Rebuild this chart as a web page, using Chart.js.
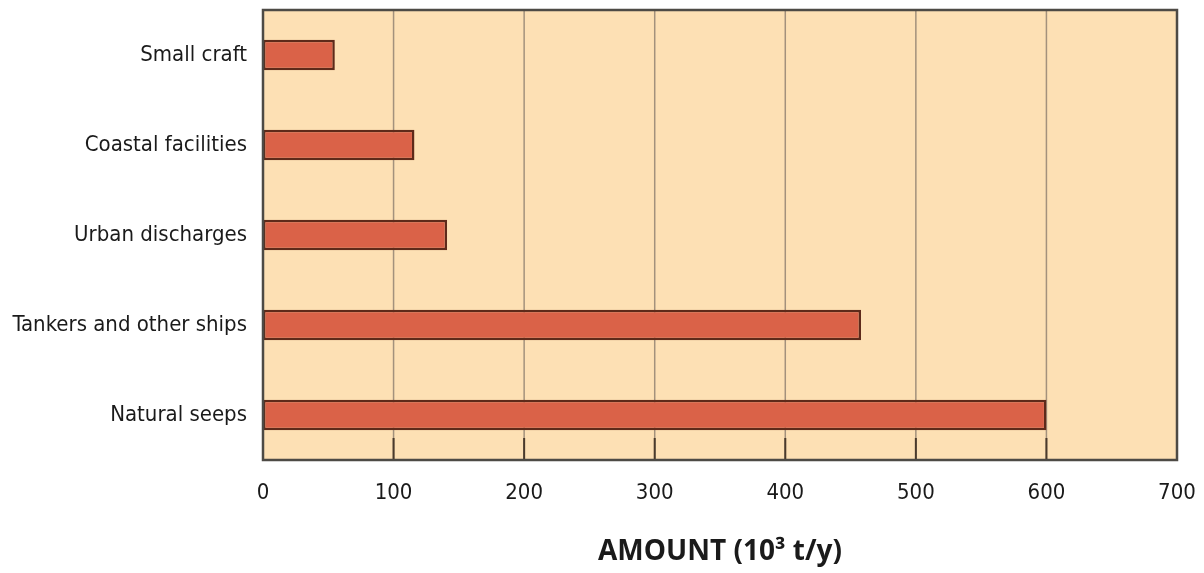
<!DOCTYPE html>
<html>
<head>
<meta charset="utf-8">
<script src="https://cdn.jsdelivr.net/npm/chart.js@4/dist/chart.umd.min.js"></script>
<style>
  html, body { margin: 0; padding: 0; background: #fff; }
  #wrap { width: 1204px; height: 573px; }
</style>
</head>
<body>
<div id="wrap"><canvas id="the-graph" width="1204" height="573"></canvas></div>
<script>
var sources = ["Small craft", "Coastal facilities", "Urban discharges", "Tankers and other ships", "Natural seeps"];
var amounts = [55, 116, 141, 458, 600];
var xTicks  = [0, 100, 200, 300, 400, 500, 600, 700];

var labelFont = "'DejaVu Sans Condensed', 'Liberation Sans Narrow', sans-serif";

// plot background, full frame and short dark ticks at the bottom
var frame = {
  id: 'frame',
  beforeDatasetsDraw: function (chart) {
    var a = chart.chartArea, ctx = chart.ctx;
    ctx.save();
    ctx.fillStyle = '#fde0b4';
    ctx.fillRect(a.left, a.top, a.right - a.left, a.bottom - a.top);
    var x = chart.scales.x;
    ctx.strokeStyle = '#a3917c';
    ctx.lineWidth = 1.5;
    xTicks.slice(1, -1).forEach(function (v) {
      var px = x.getPixelForValue(v);
      ctx.beginPath(); ctx.moveTo(px, a.top); ctx.lineTo(px, a.bottom); ctx.stroke();
    });
    ctx.strokeStyle = '#4a3a2c';
    ctx.lineWidth = 2;
    xTicks.forEach(function (v) {
      var px = x.getPixelForValue(v);
      ctx.beginPath(); ctx.moveTo(px, a.bottom - 22); ctx.lineTo(px, a.bottom); ctx.stroke();
    });
    ctx.restore();
  },
  afterDraw: function (chart) {
    var a = chart.chartArea, ctx = chart.ctx;
    ctx.save();
    ctx.strokeStyle = '#4d4a45';
    ctx.lineWidth = 2.5;
    ctx.strokeRect(a.left, a.top, a.right - a.left, a.bottom - a.top);
    ctx.restore();
  }
};

new Chart(document.getElementById('the-graph'), {
  type: 'bar',
  data: {
    labels: sources,
    datasets: [{
      data: amounts,
      backgroundColor: '#da6248',
      borderColor: '#5e2a1a',
      borderWidth: 2.5,
      borderSkipped: false,
      categoryPercentage: 1,
      barPercentage: 0.34
    }]
  },
  options: {
    indexAxis: 'y',
    responsive: false,
    animation: false,
    layout: { padding: { top: 10, right: 27, left: 0, bottom: 0 } },
    plugins: { legend: { display: false }, tooltip: { enabled: false } },
    scales: {
      x: {
        min: 0, max: 700,
        afterBuildTicks: function (s) { s.ticks = xTicks.map(function (v) { return { value: v }; }); },
        afterFit: function (s) { s.height = 113; s.paddingLeft = 0; s.paddingRight = 0; },
        grid: { display: false, drawTicks: false },
        border: { display: false },
        ticks: { color: '#1a1a1a', padding: 20, font: { family: labelFont, size: 22 } },
        title: {
          display: true,
          text: 'AMOUNT (10³ t/y)',
          color: '#1a1a1a',
          padding: { top: 26 },
          font: { family: "'Open Sans', 'DejaVu Sans', sans-serif", size: 28, weight: 'bold' }
        }
      },
      y: {
        afterFit: function (s) { s.width = 263; s.paddingTop = 0; s.paddingBottom = 0; },
        grid: { display: false, drawTicks: false },
        border: { display: false },
        ticks: { color: '#1a1a1a', padding: 16, font: { family: labelFont, size: 22 } }
      }
    }
  },
  plugins: [frame]
});
</script>
</body>
</html>
